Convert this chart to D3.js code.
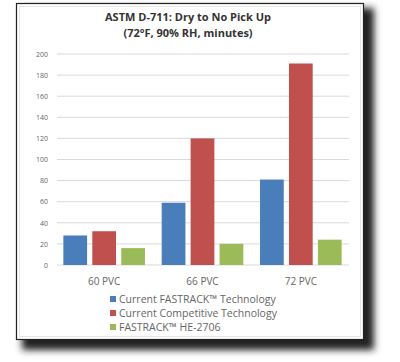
<!DOCTYPE html>
<html lang="en">
<head>
<meta charset="utf-8">
<title>ASTM D-711: Dry to No Pick Up</title>
<script src="https://cdn.jsdelivr.net/npm/d3@7"></script>
<style>
  body { margin: 0; background: #fff; }
  #chart text { font-family: "Open Sans", "Noto Sans", sans-serif; }
  .axis path, .axis line { fill: none; stroke: none; }
  .y.axis text { fill: #666; font-size: 7px; }
  .x.axis text { fill: #666; font-size: 10px; }
</style>
</head>
<body>
<div id="chart"></div>
<script>
var categories = ["60 PVC", "66 PVC", "72 PVC"];
var seriesNames = ["Current FASTRACK\u2122 Technology", "Current Competitive Technology", "FASTRACK\u2122 HE-2706"];
var seriesColors = ["#4a7ebb", "#c0504d", "#9bbb59"];
var currentFastrack = [28, 59, 81];
var competitive = [32, 120, 191];
var heFastrack = [16, 20, 24];
var yTicks = [0, 20, 40, 60, 80, 100, 120, 140, 160, 180, 200];

var series = [currentFastrack, competitive, heFastrack];

var W = 400, H = 362;
var svg = d3.select("#chart").append("svg").attr("width", W).attr("height", H);

// card shadow
var defs = svg.append("defs");
defs.append("filter").attr("id", "blur")
    .attr("x", "-10%").attr("y", "-10%").attr("width", "130%").attr("height", "130%")
    .append("feGaussianBlur").attr("stdDeviation", 3.5);
svg.append("rect")
   .attr("x", 22).attr("y", 8).attr("width", 352).attr("height", 342)
   .attr("fill", "#222").attr("filter", "url(#blur)");
svg.append("rect")
   .attr("x", 16.5).attr("y", 3.5).attr("width", 347).attr("height", 336)
   .attr("fill", "#fff").attr("stroke", "#222").attr("stroke-width", 1.2);
svg.append("rect")
   .attr("x", 19.5).attr("y", 6.5).attr("width", 341).attr("height", 330)
   .attr("fill", "none").attr("stroke", "#e4e4e4").attr("stroke-width", 1);

// title
var title = svg.append("text").attr("text-anchor", "middle")
    .attr("fill", "#333").attr("font-weight", "bold").attr("font-size", 11);
title.append("tspan").attr("x", 188).attr("y", 21).text("ASTM D-711: Dry to No Pick Up");
title.append("tspan").attr("x", 188).attr("y", 37).text("(72\u00b0F, 90% RH, minutes)");

var x = d3.scaleBand().domain(categories).range([55, 350]).paddingInner(0.17).paddingOuter(0.085);
var xs = d3.scaleBand().domain(d3.range(series.length)).range([0, x.bandwidth()]).paddingInner(0.18);
var y = d3.scaleLinear().domain([0, 200]).range([265, 54]);

var chart = svg.append("g");

chart.selectAll(".grid")
     .data(yTicks)
     .enter()
     .append("line")
     .attr("class", "grid")
     .attr("x1", 57).attr("x2", 349)
     .attr("y1", function(d) { return y(d); })
     .attr("y2", function(d) { return y(d); })
     .attr("stroke", "#d9d9d9").attr("stroke-width", 1);

chart.append("g")
     .attr("class", "y axis")
     .attr("transform", "translate(50,0)")
     .call(d3.axisLeft(y).tickValues(yTicks).tickSize(0).tickPadding(2));

series.forEach(function(vals, si) {
    chart.selectAll(".bar" + si)
         .data(vals)
         .enter()
         .append("rect")
         .attr("x", function(d, i) { return x(categories[i]) + xs(si); })
         .attr("y", function(d) { return y(d); })
         .attr("width", xs.bandwidth())
         .attr("height", function(d) { return y(0) - y(d); })
         .attr("fill", seriesColors[si]);
});

chart.append("g")
     .attr("class", "x axis")
     .attr("transform", "translate(0,278)")
     .call(d3.axisBottom(x).tickSize(0).tickPadding(0));

var legend = chart.selectAll(".legend")
     .data(seriesNames)
     .enter()
     .append("g")
     .attr("transform", function(d, i) { return "translate(110," + (299 + i * 14) + ")"; });
legend.append("rect")
      .attr("x", 0).attr("y", -3).attr("width", 6).attr("height", 6)
      .attr("fill", function(d, i) { return seriesColors[i]; });
legend.append("text")
      .attr("x", 9).attr("y", 0).attr("dy", "0.35em")
      .attr("font-size", 10.5).attr("fill", "#666")
      .text(function(d) { return d; });
</script>
</body>
</html>
